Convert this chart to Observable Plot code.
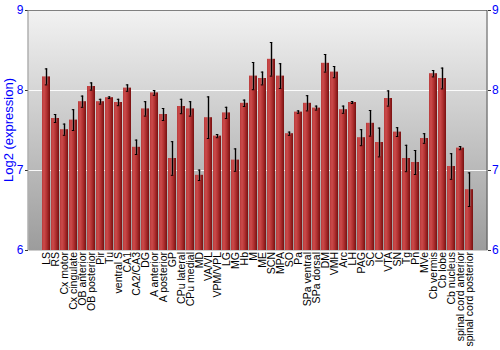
<!DOCTYPE html>
<html>
<head>
<meta charset="utf-8">
<script src="https://cdn.jsdelivr.net/npm/d3@7"></script>
<script src="https://cdn.jsdelivr.net/npm/@observablehq/plot@0.6"></script>
<style>
  html, body { margin: 0; padding: 0; background: #fff; }
  svg { font-family: "Liberation Sans", Arial, sans-serif; }
</style>
</head>
<body>
<div id="chart"></div>
<script>
const regions = ["LS","RS","Cx motor","Cx cingulate","OB anterior","OB posterior","Pir","Tu","ventral S","CA1","CA2/CA3","DG","A anterior","A posterior","GP","CPu lateral","CPu medial","MD","VA/VL","VPM/VPL","LG","MG","Hb","M","ME","SCN","MPA","SO","Pa","SPa ventral","SPa dorsal","DM","VMH","Arc","LH","PAG","SC","IC","VTA","SN","Tg","Pn","MVe","Cb vermis","Cb lobe","Cb nucleus","spinal cord anterior","spinal cord posterior"];
const expression = [8.17,7.65,7.51,7.63,7.86,8.05,7.86,7.91,7.85,8.03,7.29,7.77,7.97,7.70,7.15,7.80,7.77,6.94,7.66,7.43,7.72,7.13,7.84,8.18,8.15,8.39,8.18,7.46,7.73,7.84,7.78,8.34,8.23,7.76,7.85,7.41,7.59,7.35,7.90,7.48,7.15,7.10,7.40,8.21,8.15,7.05,7.28,6.76];
const errors = [0.10,0.05,0.07,0.13,0.07,0.045,0.03,0.01,0.04,0.04,0.09,0.09,0.03,0.075,0.21,0.09,0.09,0.065,0.26,0.02,0.07,0.14,0.04,0.17,0.08,0.21,0.155,0.02,0.015,0.095,0.025,0.11,0.07,0.045,0.012,0.10,0.16,0.18,0.095,0.055,0.165,0.15,0.06,0.04,0.13,0.16,0.02,0.21];
const yTicks = [6,7,8,9];
const gridTicks = [7,8];
const yLabel = "Log2 (expression)";

const data = regions.map((r, i) => ({region: r, value: expression[i], err: errors[i]}));

const chart = Plot.plot({
  width: 500,
  height: 350,
  marginLeft: 28,
  marginRight: 13,
  marginTop: 10,
  marginBottom: 100,
  style: {fontFamily: "Liberation Sans, Arial, sans-serif", background: "white"},
  x: {domain: regions, paddingInner: 0.1, paddingOuter: 0.03, label: null},
  y: {domain: [6, 9], label: null},
  marks: [
    Plot.frame({fill: "url(#bgGrad)", stroke: null}),
    Plot.gridY(gridTicks, {stroke: "#ffffff", strokeOpacity: 0.9, strokeWidth: 1}),
    Plot.barY(data, {x: "region", y1: 6, y2: "value", fill: "url(#barGrad)"}),
    Plot.ruleX(data, {x: "region", y1: d => d.value - d.err, y2: d => d.value + d.err, stroke: "#777", strokeWidth: 3, strokeOpacity: 0.45}),
    Plot.ruleX(data, {x: "region", y1: d => d.value - d.err, y2: d => d.value + d.err, stroke: "#000", strokeWidth: 1}),
    Plot.tickY(data, {x: "region", y: d => d.value - d.err, stroke: "#000", insetLeft: 2.8, insetRight: 2.8}),
    Plot.tickY(data, {x: "region", y: d => d.value + d.err, stroke: "#000", insetLeft: 2.8, insetRight: 2.8}),
    Plot.ruleY([9], {stroke: "#808080", strokeWidth: 1.2}),
    Plot.axisY(yTicks, {anchor: "left", tickSize: 3, tickPadding: 2, tickFormat: d3.format("d"), fill: "#0000ff", stroke: "#333", fontSize: 12, label: null}),
    Plot.axisY(yTicks, {anchor: "right", tickSize: 3, tickPadding: 1.5, tickFormat: d3.format("d"), fill: "#0000ff", stroke: "#333", fontSize: 12, label: null}),
    Plot.axisX({tickRotate: -90, tickSize: 0, tickPadding: 1.5, fontSize: 10.5, fill: "#000", label: null})
  ]
});

// gradients
const svg = d3.select(chart);
const defs = svg.insert("defs", ":first-child");
const bg = defs.append("linearGradient").attr("id", "bgGrad").attr("x1", 0).attr("y1", 0).attr("x2", 0).attr("y2", 1);
bg.append("stop").attr("offset", "0%").attr("stop-color", "#f2f2f2");
bg.append("stop").attr("offset", "100%").attr("stop-color", "#9c9c9c");
const bar = defs.append("linearGradient").attr("id", "barGrad").attr("x1", 0).attr("y1", 0).attr("x2", 1).attr("y2", 0);
bar.append("stop").attr("offset", "0%").attr("stop-color", "#b83a3a");
bar.append("stop").attr("offset", "25%").attr("stop-color", "#cc4b4b");
bar.append("stop").attr("offset", "60%").attr("stop-color", "#b03030");
bar.append("stop").attr("offset", "100%").attr("stop-color", "#781010");

// side frame lines
const x0 = 28, x1 = 487;
svg.append("line").attr("x1", x0).attr("x2", x0).attr("y1", 10).attr("y2", 250).attr("stroke", "#888");
svg.append("line").attr("x1", x1).attr("x2", x1).attr("y1", 10).attr("y2", 250).attr("stroke", "#555");

// y axis title
svg.append("text")
  .attr("transform", "translate(13,130) rotate(-90)")
  .attr("text-anchor", "middle")
  .attr("fill", "#0000ff")
  .attr("font-size", 13)
  .text(yLabel);

document.getElementById("chart").appendChild(chart);
</script>
</body>
</html>
